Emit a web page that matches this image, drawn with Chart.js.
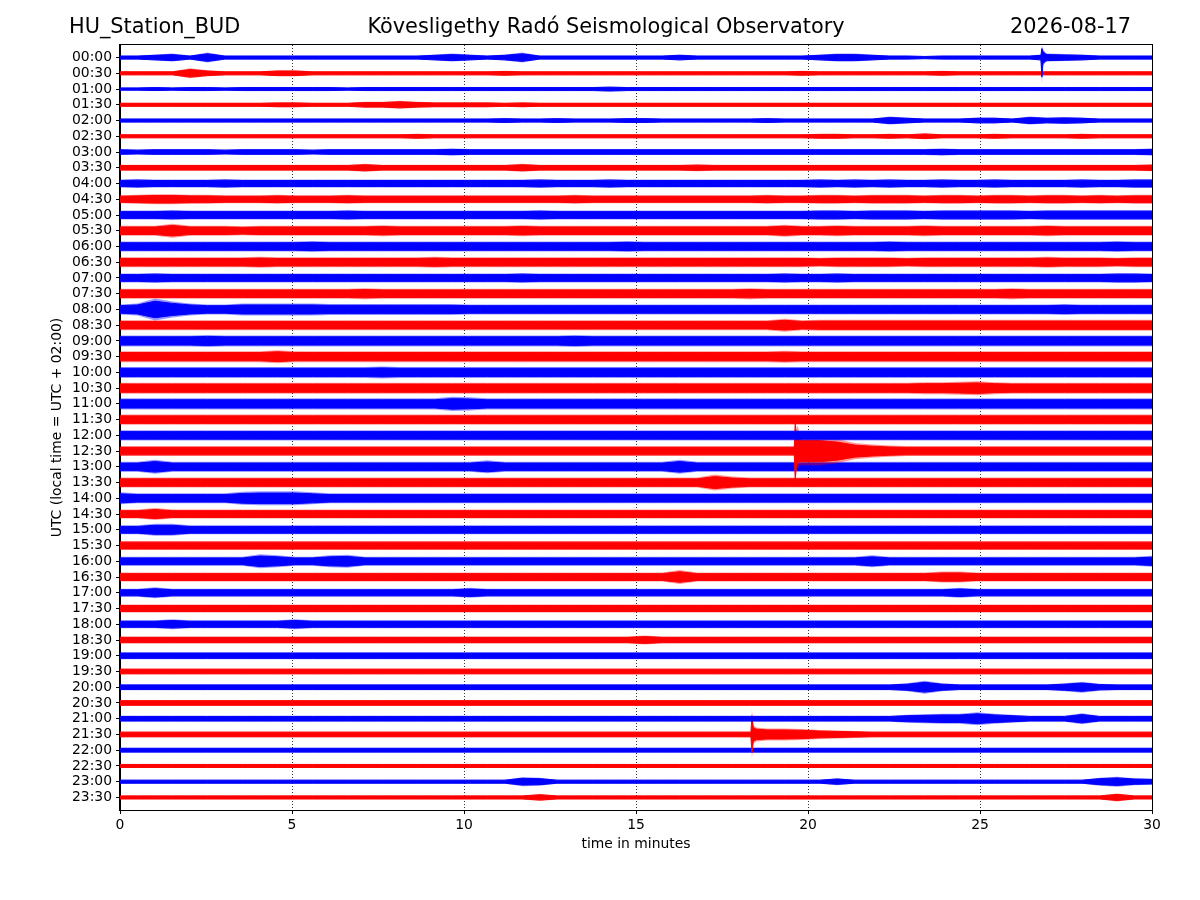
<!DOCTYPE html>
<html>
<head>
<meta charset="utf-8">
<script src="https://cdn.jsdelivr.net/npm/chart.js@4.4.1/dist/chart.umd.min.js"></script>
<style>html,body{margin:0;padding:0;background:#fff}canvas{display:block}</style>
</head>
<body>
<canvas id="c" width="1200" height="900"></canvas>
<script>
// ---------- text ----------
const stationName = "HU_Station_BUD";
const observatoryName = "Kövesligethy Radó Seismological Observatory";
const plotDate = "2026-08-17";
const xAxisTitle = "time in minutes";
const yAxisTitle = "UTC (local time = UTC + 02:00)";

// ---------- axes ----------
const xTickValues = [0, 5, 10, 15, 20, 25, 30];
const rowLabels = ["00:00","00:30","01:00","01:30","02:00","02:30","03:00","03:30",
  "04:00","04:30","05:00","05:30","06:00","06:30","07:00","07:30",
  "08:00","08:30","09:00","09:30","10:00","10:30","11:00","11:30",
  "12:00","12:30","13:00","13:30","14:00","14:30","15:00","15:30",
  "16:00","16:30","17:00","17:30","18:00","18:30","19:00","19:30",
  "20:00","20:30","21:00","21:30","22:00","22:30","23:00","23:30"];

// ---------- trace envelopes (half peak-to-peak, counts), 60 samples across 30 min per row ----------
const traceEnvelopes = [
/*00:00*/[2,2,3,4,2,5,2,2,2,2, 2,2,2,2,2,2,2,2,3,4, 3,2,3,5,2,2,2,2,2,2, 2,2,3,2,2,2,2,2,2,2, 3,4,4,3,2,2,1.5,2,2,2, 2,2,2,4,3.5,3,2,2,2,2],
/*00:30*/[2,2,2,2,5,3,2,2,2,3, 3,2,2,2,2,2,2,2,2,2, 2,2,2.5,2,2,2,2,2,2,2, 2,2,2,2,2,2,2,2,2,2.5, 2,2,2,2,2,2,2,2.5,2,2, 2,2,2,2,2,2,2,2,2,2],
/*01:00*/[1.5,1.5,2,1.5,2,2,1.5,2,2,2, 2,2,2,1.5,2,2,2,2,2,2, 2,2,2,2,2,2,2,2,2.5,2, 2,2,2,2,2,2,2,2,2,2, 2,2,2,2,2,2,2,2,2,2, 2,2,2,2,2,2,2,2,2,2],
/*01:30*/[2,2,2,2,2,2,2,2,2,2.5, 2.5,2,2,2,3,3,4,3,2.5,2.5, 2.5,2.5,2,2.5,2,2,2,2,2,2, 2,2,2,2,2,2,2,2,2,2, 2,2,2,2,2,2,2,2,2,2, 2,2,2,2,2,2,2,2,2,2],
/*02:00*/[2,2,2,2,2,2,2,2,2,2, 2,2,2,2,2,2,2,2,2,2, 2,2,2.5,2,2,2.5,2,2,2,2.5, 2.5,2,2,2,2,2,2,2.5,2,2, 2,2,2,2,4,3,2,2,2,3, 3,2,4,3,3.5,3,2,2,2,2],
/*02:30*/[2,2,2,2,2,2,2,2,2,2, 2,2,2,2,2,2,2,2.5,2,2, 2,2,2,2,2,2,2,2,2,2, 2,2,2,2,2,2,2,2,2,2, 2.5,2.5,2,2,2.5,2,3,2,2,2, 2.5,2,2,2,2,2.5,2,2,2,2],
/*03:00*/[3,2.5,3,3,3,3,2.5,3,3,3, 3,2.5,3,3,3,3,3,3,3,3.5, 3,3,3,3,3,3,3,3,3,3, 3,3,3,3,3,3,3,3,3,3, 3,3,3,3,3,3,3,3.5,3,3, 3,3,3,3,3,3,3,3,3,3.5],
/*03:30*/[3,3,3,3,3,3,3,3,3,3, 3,3,3,3,4,3,3,3,3,3, 3,3,3,4,3,3,3,3,3,3, 3,3,3,3.5,3,3,3,3,3,3, 3,3,3,3,3,3,3,3,3,3, 3,3,3,3,3,3,3,3,3,3.5],
/*04:00*/[4,4.5,4,4,4,4,4.5,4,4,4, 4,4,4,4,4,4,4,4,4,4, 4,4,4,4,4.5,4,4,4,4.5,4, 4,4,4,4,4,4,4,4,4,4, 4.5,4,4.5,4,4.5,4,4,4.5,4,4, 4.5,4,4,4,4,4.5,4,4,4.5,4.5],
/*04:30*/[4,4.5,5,5,4.5,4.5,4,4,4,4.5, 4,4,4,4.5,4,4,4,4,4,4, 4,4,4,4,4,4,4.5,4,4,4, 4,4,4,4,4,4,4,4.5,4,4, 4.5,4.5,4,4.5,4.5,4.5,4,4.5,4.5,4, 4.5,4.5,4,4.5,4.5,4,4.5,4,4.5,4.5],
/*05:00*/[4.5,4.5,4.5,5,4.5,4.5,4.5,4.5,4.5,4.5, 4.5,4.5,4.5,5,4.5,4.5,4.5,4.5,4.5,4.5, 4.5,4.5,4.5,4.5,5,4.5,4.5,4.5,4.5,4.5, 4.5,4.5,4.5,4.5,4.5,4.5,4.5,4.5,4.5,4.5, 5,5,4.5,5,5,5,4.5,5,5,5, 5,5,4.5,5,5,5,5,5,5,5],
/*05:30*/[5,5,5,7,5,5,5,4.5,5,5, 5,5,5,5,5,5.5,5,5,5,5, 5,5,5,5.5,5,5,5,5,5,5, 5,5,5,5,5,5,5,5,6,5, 5,5.5,5,5,5,5,5.5,5,5,5, 5,5,5,5.5,5,5,5,5,5,5],
/*06:00*/[5,5,5,5,5,5,5,5,5,5, 5,5.5,5,5,5,5,5,5,5,5, 5,5,5,5,5,5,5,5,5,5.5, 5,5,5,5,5,5,5,5,5,5, 5,5,5,5,5.5,5,5,5,5,5, 5,5,5,5,5,5,5,5.5,5,5],
/*06:30*/[5,5,5,5,5,5,5,5,5.5,5, 5,5,5,5,5,5,5,5,5.5,5, 5,5,5,5,5,5,5,5,5,5, 5,5,5,5,5,5,5,5,5,5, 4.5,5,5,5,5,4.5,5,5,5,5, 5,5,5,5.5,5,5,5,4.5,5,5],
/*07:00*/[4.5,4.5,5,4.5,4.5,4.5,4.5,4.5,4.5,4.5, 4.5,4.5,4.5,4.5,4.5,4.5,4.5,4.5,4.5,4.5, 4.5,4.5,4.5,5,4.5,4.5,4.5,4.5,4.5,4.5, 4.5,4.5,4.5,4.5,4.5,4.5,4.5,4.5,5,4.5, 4.5,5,4.5,4.5,4.5,4.5,4.5,4.5,4.5,4.5, 4.5,4.5,4.5,4.5,4.5,4.5,4.5,5,5,4.5],
/*07:30*/[5,5,5,5,5,5,5,5,5,5, 5,5,5,5,5.5,5,5,5,5,5, 5,5,5,5,5,5,5,5,5,5, 5,5,5,5,5,5,5.5,5,5,5, 5,5,5,5,5,5,5,5,5,5, 5,5.5,5,5,5,5,5,5,5,5],
/*08:00*/[5,6,11,8,6,5,5,6,6,6, 6,6,5.5,5.5,5.5,5.5,5.5,5.5,5.5,5.5, 5,5,5,5,5,5,5,5,5,5, 5,5,5,5,5,5,5,5,5,5, 5,5,5,5,5,5,5,5,5,5, 5,5,5,5,5.5,5,5,5,5,5],
/*08:30*/[5,5,5,5,5,5,5,5,5,5, 5,5,5,5,5,5,5,5,5,5, 5,5,5,5,5,5,5,5,5,5, 5,5,5,5,5,5,5,5,6.5,5, 5.5,5.5,5.5,5.5,5.5,5.5,5.5,5.5,5.5,5.5, 5.5,5.5,5.5,5.5,5.5,5.5,5.5,5.5,5.5,5.5],
/*09:00*/[5.5,5.5,5.5,5.5,5.5,6,5.5,5.5,5.5,5.5, 5.5,5.5,5.5,5.5,5.5,5.5,5.5,5.5,5.5,5.5, 5.5,5.5,5.5,5.5,5.5,5.5,6,5.5,5.5,5.5, 5.5,5.5,5.5,5.5,5.5,5.5,5.5,5.5,5.5,5.5, 5.5,5.5,5.5,5.5,5.5,5.5,5.5,5.5,5.5,5.5, 5.5,5.5,5.5,5.5,5.5,5.5,5.5,5.5,5.5,5.5],
/*09:30*/[5.5,5.5,5.5,5.5,5.5,5.5,5.5,5.5,5.5,6.5, 5.5,5.5,5.5,5.5,5.5,5.5,5.5,5.5,5.5,5.5, 5.5,5.5,5.5,5.5,5.5,5.5,5.5,5.5,5.5,5.5, 5.5,5.5,5.5,5.5,5.5,5.5,5.5,5.5,6,5.5, 5.5,5.5,5.5,5.5,5.5,5.5,5.5,5.5,5.5,5.5, 5.5,5.5,5.5,5.5,5.5,5.5,5.5,5.5,5.5,5.5],
/*10:00*/[5.5,5.5,5.5,5.5,5.5,5.5,5.5,5.5,5.5,5.5, 5.5,5.5,5.5,5.5,5.5,6,5.5,5.5,5.5,5.5, 5.5,5.5,5.5,5.5,5.5,5.5,5.5,5.5,5.5,5.5, 5.5,5.5,5.5,5.5,5.5,5.5,5.5,5.5,5.5,5.5, 5.5,5.5,5.5,5.5,5.5,5.5,5.5,5.5,5.5,5.5, 5.5,5.5,5.5,5.5,5.5,5.5,5.5,5.5,5.5,5.5],
/*10:30*/[5.5,5.5,5.5,5.5,5.5,5.5,5.5,5.5,5.5,5.5, 5.5,5.5,5.5,5.5,5.5,5.5,5.5,5.5,5.5,5.5, 5.5,5.5,5.5,5.5,5.5,5.5,5.5,5.5,5.5,5.5, 5.5,5.5,5.5,5.5,5.5,5.5,5.5,5.5,5.5,5.5, 5.5,5.5,5.5,5.5,5.5,5.5,6,6,6.5,7, 6,5.5,5.5,5.5,5.5,5.5,5.5,5.5,5.5,5.5],
/*11:00*/[5.5,5.5,5.5,5.5,5.5,5.5,5.5,5.5,5.5,5.5, 5.5,5.5,5.5,5.5,5.5,5.5,5.5,5.5,5.5,7, 6.5,5.5,5.5,5.5,5.5,5.5,5.5,5.5,5.5,5.5, 5.5,5.5,5.5,5.5,5.5,5.5,5.5,5.5,5.5,5.5, 5.5,5.5,5.5,5.5,5.5,5.5,5.5,5.5,5.5,5.5, 5.5,5.5,5.5,5.5,5.5,5.5,5.5,5.5,5.5,5.5],
/*11:30*/[5,5,5,5,5,5,5,5,5,5, 5,5,5,5,5,5,5,5,5,5, 5,5,5,5,5,5,5,5,5,5, 5,5,5,5,5,5,5,5,5,5, 5,5,5,5,5,5,5,5,5,5, 5,5,5,5,5,5,5,5,5,5],
/*12:00*/[5,5,5,5,5,5,5,5,5,5, 5,5,5,5,5,5,5,5,5,5, 5,5,5,5,5,5,5,5,5,5, 5,5,5,5,5,5,5,5,5,5, 5,5,5,5,5,5,5,5,5,5, 5,5,5,5,5,5,5,5,5,5],
/*12:30*/[5,5,5,5,5,5,5,5,5,5, 5,5,5,5,5,5,5,5,5,5, 5,5,5,5,5,5,5,5,5,5, 5,5,5,5,5,5,5,5,5,14, 14,12,8,6.5,5.5,5,5,5,5,5, 5,5,5,5,5,5,5,5,5,5],
/*13:00*/[5,5,7,5,5,5,5,5,5,5, 5,5,5,5,5,5,5,5,5,5, 5,6.5,5,5,5,5,5,5,5,5, 5,5,7,5,5,5,5,5,5,5, 5,5,5,5,5,5,5,5,5,5, 5,5,5,5,5,5,5,5,5,5],
/*13:30*/[5,5,5,5,5,5,5,5,5,5, 5,5,5,5,5,5,5,5,5,5, 5,5,5,5,5,5,5,5,5,5, 5,5,5,5,8,6,5,5,5,5, 5,5,5,5,5,5,5,5,5,5, 5,5,5,5,5,5,5,5,5,5],
/*14:00*/[6,5,5,5,5,5,5,6.5,7,7, 7,6,5,5,5,5,5,5,5,5, 5,5,5,5,5,5,5,5,5,5, 5,5,5,5,5,5,5,5,5,5, 5,5,5,5,5,5,5,5,5,5, 5,5,5,5,5,5,5,5,5,5],
/*14:30*/[4.5,4.5,6,4.5,4.5,4.5,4.5,4.5,4.5,4.5, 4.5,4.5,4.5,4.5,4.5,4.5,4.5,4.5,4.5,4.5, 4.5,4.5,4.5,4.5,4.5,4.5,4.5,4.5,4.5,4.5, 4.5,4.5,4.5,4.5,4.5,4.5,4.5,4.5,4.5,4.5, 4.5,4.5,4.5,4.5,4.5,4.5,4.5,4.5,4.5,4.5, 4.5,4.5,4.5,4.5,4.5,4.5,4.5,4.5,4.5,4.5],
/*15:00*/[4.5,4.5,6,6,4.5,4.5,4.5,4.5,4.5,4.5, 4.5,4.5,4.5,4.5,4.5,4.5,4.5,4.5,4.5,4.5, 4.5,4.5,4.5,4.5,4.5,4.5,4.5,4.5,4.5,4.5, 4.5,4.5,4.5,4.5,4.5,4.5,4.5,4.5,4.5,4.5, 4.5,4.5,4.5,4.5,4.5,4.5,4.5,4.5,4.5,4.5, 4.5,4.5,4.5,4.5,4.5,4.5,4.5,4.5,4.5,4.5],
/*15:30*/[4.5,4.5,4.5,4.5,4.5,4.5,4.5,4.5,4.5,4.5, 4.5,4.5,4.5,4.5,4.5,4.5,4.5,4.5,4.5,4.5, 4.5,4.5,4.5,4.5,4.5,4.5,4.5,4.5,4.5,4.5, 4.5,4.5,4.5,4.5,4.5,4.5,4.5,4.5,4.5,4.5, 4.5,4.5,4.5,4.5,4.5,4.5,4.5,4.5,4.5,4.5, 4.5,4.5,4.5,4.5,4.5,4.5,4.5,4.5,4.5,4.5],
/*16:00*/[4.5,4.5,4.5,4.5,4.5,4.5,4.5,4.5,7,6, 4.5,4.5,6,6.5,4.5,4.5,4.5,4.5,4.5,4.5, 4.5,4.5,4.5,4.5,4.5,4.5,4.5,4.5,4.5,4.5, 4.5,4.5,4.5,4.5,4.5,4.5,4.5,4.5,4.5,4.5, 4.5,4.5,4.5,6,4.5,4.5,4.5,4.5,4.5,4.5, 4.5,4.5,4.5,4.5,4.5,4.5,4.5,4.5,4.5,5.5],
/*16:30*/[4.5,4.5,4.5,4.5,4.5,4.5,4.5,4.5,4.5,4.5, 4.5,4.5,4.5,4.5,4.5,4.5,4.5,4.5,4.5,4.5, 4.5,4.5,4.5,4.5,4.5,4.5,4.5,4.5,4.5,4.5, 4.5,4.5,7,4.5,4.5,4.5,4.5,4.5,4.5,4.5, 4.5,4.5,4.5,4.5,4.5,4.5,4.5,5.5,5.5,4.5, 4.5,4.5,4.5,4.5,4.5,4.5,4.5,4.5,4.5,4.5],
/*17:00*/[4,4,5.5,4,4,4,4,4,4,4, 4,4,4,4,4,4,4,4,4,4, 5,4,4,4,4,4,4,4,4,4, 4,4,4,4,4,4,4,4,4,4, 4,4,4,4,4,4,4,4,5,4, 4,4,4,4,4,4,4,4,4,4],
/*17:30*/[4,4,4,4,4,4,4,4,4,4, 4,4,4,4,4,4,4,4,4,4, 4,4,4,4,4,4,4,4,4,4, 4,4,4,4,4,4,4,4,4,4, 4,4,4,4,4,4,4,4,4,4, 4,4,4,4,4,4,4,4,4,4],
/*18:00*/[4,4,4,5,4,4,4,4,4,4, 5,4,4,4,4,4,4,4,4,4, 4,4,4,4,4,4,4,4,4,4, 4,4,4,4,4,4,4,4,4,4, 4,4,4,4,4,4,4,4,4,4, 4,4,4,4,4,4,4,4,4,4],
/*18:30*/[3.5,3.5,3.5,3.5,3.5,3.5,3.5,3.5,3.5,3.5, 3.5,3.5,3.5,3.5,3.5,3.5,3.5,3.5,3.5,3.5, 3.5,3.5,3.5,3.5,3.5,3.5,3.5,3.5,3.5,3.5, 4.5,3.5,3.5,3.5,3.5,3.5,3.5,3.5,3.5,3.5, 3.5,3.5,3.5,3.5,3.5,3.5,3.5,3.5,3.5,3.5, 3.5,3.5,3.5,3.5,3.5,3.5,3.5,3.5,3.5,3.5],
/*19:00*/[3.5,3.5,3.5,3.5,3.5,3.5,3.5,3.5,3.5,3.5, 3.5,3.5,3.5,3.5,3.5,3.5,3.5,3.5,3.5,3.5, 3.5,3.5,3.5,3.5,3.5,3.5,3.5,3.5,3.5,3.5, 3.5,3.5,3.5,3.5,3.5,3.5,3.5,3.5,3.5,3.5, 3.5,3.5,3.5,3.5,3.5,3.5,3.5,3.5,3.5,3.5, 3.5,3.5,3.5,3.5,3.5,3.5,3.5,3.5,3.5,3.5],
/*19:30*/[3,3,3,3,3,3,3,3,3,3, 3,3,3,3,3,3,3,3,3,3, 3,3,3,3,3,3,3,3,3,3, 3,3,3,3,3,3,3,3,3,3, 3,3,3,3,3,3,3,3,3,3, 3,3,3,3,3,3,3,3,3,3],
/*20:00*/[3,3,3,3,3,3,3,3,3,3, 3,3,3,3,3,3,3,3,3,3, 3,3,3,3,3,3,3,3,3,3, 3,3,3,3,3,3,3,3,3,3, 3,3,3,3,3,4,6.5,4,3,3, 3,3,3,3,4,5.5,3.5,3,3,3],
/*20:30*/[3,3,3,3,3,3,3,3,3,3, 3,3,3,3,3,3,3,3,3,3, 3,3,3,3,3,3,3,3,3,3, 3,3,3,3,3,3,3,3,3,3, 3,3,3,3,3,3,3,3,3,3, 3,3,3,3,3,3,3,3,3,3],
/*21:00*/[3,3,3,3,3,3,3,3,3,3, 3,3,3,3,3,3,3,3,3,3, 3,3,3,3,3,3,3,3,3,3, 3,3,3,3,3,3,3,3,3,3, 3,3,3,3,3,4,4.5,5,5,6.5, 5,4,3,3,3,5.5,3,3,3,3],
/*21:30*/[3,3,3,3,3,3,3,3,3,3, 3,3,3,3,3,3,3,3,3,3, 3,3,3,3,3,3,3,3,3,3, 3,3,3,3,3,3,3,6,6,5.5, 4.5,4,3.5,3,3,3,3,3,3,3, 3,3,3,3,3,3,3,3,3,3],
/*22:00*/[2.5,2.5,2.5,2.5,2.5,2.5,2.5,2.5,2.5,2.5, 2.5,2.5,2.5,2.5,2.5,2.5,2.5,2.5,2.5,2.5, 2.5,2.5,2.5,2.5,2.5,2.5,2.5,2.5,2.5,2.5, 2.5,2.5,2.5,2.5,2.5,2.5,2.5,2.5,2.5,2.5, 2.5,2.5,2.5,2.5,2.5,2.5,2.5,2.5,2.5,2.5, 2.5,2.5,2.5,2.5,2.5,2.5,2.5,2.5,2.5,2.5],
/*22:30*/[2,2,2,2,2,2,2,2,2,2, 2,2,2,2,2,2,2,2,2,2, 2,2,2,2,2,2,2,2,2,2, 2,2,2,2,2,2,2,2,2,2, 2,2,2,2,2,2,2,2,2,2, 2,2,2,2,2,2,2,2,2,2],
/*23:00*/[2,2,2,2,2,2,2,2,2,2, 2,2,2,2,2,2,2,2,2,2, 2,2,2,4.5,4,2,2,2,2,2, 2,2,2,2,2,2,2,2,2,2, 2,3.5,2,2,2,2,2,2,2,2, 2,2,2,2,2,2,4,5,3.5,3],
/*23:30*/[2,2,2,2,2,2,2,2,2,2, 2,2,2,2,2,2,2,2,2,2, 2,2,2,2,3.5,2,2,2,2,2, 2,2,2,2,2,2,2,2,2,2, 2,2,2,2,2,2,2,2,2,2, 2,2,2,2,2,2,2,4,2,2]
];

// ---------- sharp onsets read at finer time steps: [row, minute, up, down] (counts) ----------
const onsetSamples = [
  [0, 26.77, 3, 3], [0, 26.80, 12, 26], [0, 26.83, 8, 8], [0, 26.90, 5, 5],
  [25, 19.60, 5, 5], [25, 19.63, 38, 38], [25, 19.66, 20, 20], [25, 19.70, 26, 16], [25, 19.76, 16, 14],
  [43, 18.34, 3, 3], [43, 18.37, 25, 24], [43, 18.41, 9, 9], [43, 18.50, 7, 7]
];

const traceColors = ["#0000ff", "#ff0000"];
const traceFringe = ["rgba(0,0,255,0.4)", "rgba(255,0,0,0.4)"];
const ROWS_PER_COUNT = 1 / 15.7;
const CORE_SHARE = 0.75;
const FONT = "'DejaVu Sans', sans-serif";

const datasets = [];
traceEnvelopes.forEach((env, r) => {
  const pts = env.map((a, i) => ({ t: i * 30 / (env.length - 1), up: a, down: a }));
  onsetSamples.filter(s => s[0] === r).forEach(s => pts.push({ t: s[1], up: s[2], down: s[3] }));
  pts.sort((a, b) => a.t - b.t);
  const base = { pointRadius: 0, tension: 0, clip: 0 };
  // outer (fringe) band: full envelope, translucent like the anti-aliased trace edges
  const fringe = Object.assign({}, base, { borderColor: 'rgba(0,0,0,0)', backgroundColor: traceFringe[r % 2], borderWidth: 0 });
  datasets.push(Object.assign({}, fringe, { data: pts.map(p => ({ x: p.t, y: r - p.up * ROWS_PER_COUNT })), fill: false }));
  datasets.push(Object.assign({}, fringe, { data: pts.map(p => ({ x: p.t, y: r + p.down * ROWS_PER_COUNT })), fill: '-1' }));
  // dense core band
  const core = Object.assign({}, base, { borderColor: traceColors[r % 2], backgroundColor: traceColors[r % 2], borderWidth: 1 });
  datasets.push(Object.assign({}, core, { data: pts.map(p => ({ x: p.t, y: r - p.up * CORE_SHARE * ROWS_PER_COUNT })), fill: false }));
  datasets.push(Object.assign({}, core, { data: pts.map(p => ({ x: p.t, y: r + p.down * CORE_SHARE * ROWS_PER_COUNT })), fill: '-1' }));
});

const frameAndHeader = {
  id: 'frameAndHeader',
  afterDatasetsDraw(chart) {
    const { ctx, chartArea: a } = chart;
    ctx.save();
    ctx.strokeStyle = '#000';
    ctx.lineWidth = 1;
    ctx.strokeRect(Math.round(a.left) - 0.5, Math.round(a.top) - 0.5, Math.round(a.right - a.left) + 1, Math.round(a.bottom - a.top) + 1);
    ctx.restore();
  },
  afterDraw(chart) {
    const ctx = chart.ctx;
    ctx.save();
    ctx.fillStyle = '#000';
    ctx.font = "20.83px " + FONT;
    ctx.textBaseline = 'middle';
    ctx.textAlign = 'left';
    ctx.fillText(stationName, 69, 28);
    ctx.textAlign = 'center';
    ctx.fillText(observatoryName, 606, 28);
    ctx.textAlign = 'right';
    ctx.fillText(plotDate, 1131, 28);
    ctx.restore();
  }
};

new Chart(document.getElementById('c'), {
  type: 'line',
  data: { datasets },
  options: {
    responsive: false,
    animation: false,
    events: [],
    parsing: false,
    normalized: true,
    layout: { padding: { left: 45, right: 48, top: 45, bottom: 43 } },
    plugins: { legend: { display: false }, tooltip: { enabled: false }, title: { display: false } },
    scales: {
      x: {
        type: 'linear', min: 0, max: 30,
        afterBuildTicks: s => { s.ticks = xTickValues.map(v => ({ value: v })); },
        ticks: { color: '#000', font: { family: FONT, size: 13.9 }, padding: 3, maxRotation: 0, autoSkip: false },
        grid: {
          color: c => (c.tick && (c.tick.value === 0 || c.tick.value === 30)) ? 'rgba(0,0,0,0)' : 'rgba(0,0,0,0.8)',
          lineWidth: 1, drawTicks: true, tickLength: 4, tickColor: '#000', tickWidth: 1, tickBorderDash: []
        },
        border: { display: true, color: '#000', width: 1, dash: [1, 2] },
        title: { display: true, text: xAxisTitle, color: '#000', font: { family: FONT, size: 13.9 }, padding: { top: 4, bottom: 4 } },
        afterFit: s => { s.height = 47; }
      },
      y: {
        type: 'linear', reverse: true, min: -0.8, max: 47.8,
        afterBuildTicks: s => { s.ticks = rowLabels.map((_, i) => ({ value: i })); },
        ticks: { color: '#000', font: { family: FONT, size: 13.9 }, padding: 4, autoSkip: false, callback: v => rowLabels[v] },
        grid: { drawOnChartArea: false, drawTicks: true, tickLength: 4, tickColor: '#000', tickWidth: 1 },
        border: { display: true, color: '#000', width: 1 },
        title: { display: true, text: yAxisTitle, color: '#000', font: { family: FONT, size: 13.9 }, padding: { top: 4, bottom: 4 } },
        afterFit: s => { s.width = 75; }
      }
    }
  },
  plugins: [frameAndHeader]
});
</script>
</body>
</html>
